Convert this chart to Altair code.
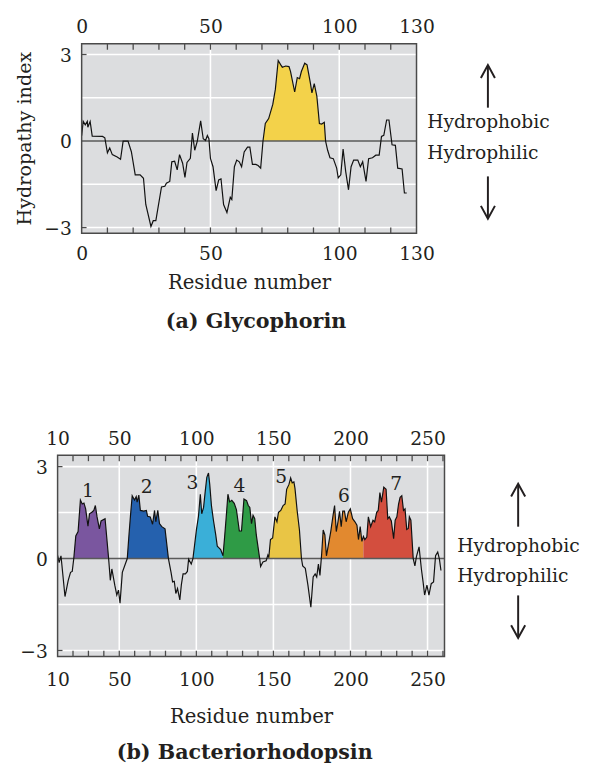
import altair as alt
import pandas as pd

FONT = "DejaVu Serif"
INK = "#231f20"
FRAME = "#4a4a4a"
PLOT_BG = "#dcdddf"

# ---------------- (a) Glycophorin ----------------
g_res = [0, 0.6, 1.4, 2.2, 2.4, 3.3, 4.1, 8.1, 9.0, 10.0,
         10.9, 11.9, 13.8, 15.1, 16.1, 18.0, 19.3, 20.8, 22.7, 24.0,
         24.9, 26.9, 27.8, 28.8, 31.0, 32.3, 32.9, 34.2, 35.0, 36.1,
         37.1, 38.0, 39.2, 40.1, 40.9, 42.2, 43.0, 43.9, 44.9, 46.2,
         47.2, 48.1, 48.8, 49.4, 50.0, 51.0, 52.2, 53.2, 54.1, 55.1,
         56.4, 57.7, 58.3, 59.3, 60.2, 61.2, 62.1, 63.1, 64.4, 65.3,
         66.3, 67.6, 68.5, 69.5, 70.4, 71.3, 72.6, 74.2, 75.2, 76.3,
         77.3, 77.9, 79.2, 80.5, 81.1, 82.7, 83.7, 84.6, 85.3, 86.6,
         87.5, 88.8, 89.4, 90.3, 91.3, 92.3, 93.2, 94.2, 94.7, 95.5,
         96.4, 97.7, 99.0, 99.6, 100.6, 101.5, 102.5, 103.6, 104.6, 105.6,
         107.2, 108.2, 109.1, 110.4, 111.4, 112.9, 114.2, 115.5, 116.4, 117.3,
         118.4, 119.3, 120.5, 121.8, 122.7, 124.4, 125.3, 126.2]
g_val = [0.19, 0.68, 0.56, 0.68, 0.48, 0.68, 0.17, 0.16, 0.11, -0.41,
         -0.24, -0.47, -0.55, -0.63, 0.0, 0.0, -0.37, -1.17, -1.17, -1.29,
         -2.2, -2.96, -2.76, -2.76, -1.59, -1.57, -1.46, -1.4, -0.72, -0.7,
         -1.0, -0.47, -0.77, -1.26, -0.74, -0.6, 0.28, -0.32, 0.0, 0.7,
         0.08, 0.02, 0.19, 0.08, -0.6, -0.89, -1.72, -1.35, -1.31, -2.2,
         -2.48, -1.95, -2.03, -0.89, -0.66, -0.72, -0.89, -0.38, -0.21, -0.21,
         -0.81, -0.81, -0.85, -0.94, 0.0, 0.61, 0.78, 1.27, 1.79, 2.79,
         2.64, 2.56, 2.6, 2.58, 2.41, 1.7, 2.2, 2.16, 2.41, 2.7,
         2.64, 2.01, 1.67, 1.99, 1.56, 0.61, 0.59, 0.65, 0.0, -0.32,
         -0.58, -0.61, -0.94, -1.28, -1.17, -0.28, -1.05, -1.69, -0.89, -0.66,
         -0.66, -0.89, -0.72, -1.4, -0.61, -0.58, -0.49, -0.49, 0.16, 0.2,
         0.73, 0.73, -0.13, -0.15, -0.94, -0.97, -1.8, -1.8]
g_xlim = [0, 130]
g_xlabels = [0, 50, 100, 130]
g_xticks = [10, 20, 30, 40, 50, 60, 70, 80, 90, 100, 110, 120]
g_vgrid = [50, 100]
g_seg_names = ["TM"]
g_seg_start = [70.4]
g_seg_end = [94.7]
g_seg_colors = ["#f3d24a"]

# ---------------- (b) Bacteriorhodopsin ----------------
b_res = [10.0, 11.0, 12.2, 14.8, 16.9, 18.4, 19.5, 20.5, 21.8, 23.3,
         24.8, 26.0, 27.1, 28.2, 29.7, 30.7, 32.2, 33.5, 34.5, 35.6,
         37.1, 38.2, 40.8, 43.1, 44.2, 45.2, 47.1, 48.4, 49.5, 50.5,
         52.0, 53.7, 55.2, 56.3, 57.3, 58.4, 59.9, 61.0, 61.6, 62.7,
         63.7, 65.9, 67.6, 68.4, 70.1, 71.6, 72.9, 73.7, 75.0, 76.1,
         77.6, 79.7, 81.9, 83.6, 84.6, 85.7, 86.7, 87.8, 89.3, 90.3,
         91.4, 92.9, 94.2, 95.0, 96.7, 97.8, 98.8, 100.1, 101.4, 102.6,
         103.5, 104.7, 105.8, 106.8, 107.9, 108.7, 109.8, 111.1, 112.6, 113.6,
         114.7, 115.8, 117.3, 118.3, 119.4, 120.5, 121.6, 123.0, 124.6, 126.0,
         127.9, 129.3, 130.9, 132.6, 133.7, 134.7, 135.8, 136.8, 137.9, 138.9,
         141.1, 141.7, 143.2, 145.3, 146.4, 147.0, 148.1, 149.5, 151.0, 152.3,
         153.3, 154.8, 156.3, 157.6, 158.6, 160.1, 161.2, 162.2, 163.3, 164.0,
         165.4, 166.9, 168.2, 169.0, 170.7, 172.4, 174.3, 175.8, 177.1, 178.1,
         179.2, 180.2, 181.3, 182.3, 183.4, 184.4, 185.5, 187.2, 188.7, 189.7,
         190.8, 191.9, 192.9, 194.0, 195.0, 196.1, 197.2, 198.6, 199.9, 201.4,
         202.9, 204.2, 205.2, 206.3, 207.4, 208.4, 209.3, 210.6, 211.6, 213.1,
         214.6, 215.7, 217.0, 218.0, 219.1, 220.1, 221.6, 223.1, 224.2, 225.2,
         226.5, 228.0, 229.0, 230.1, 231.2, 232.2, 233.3, 234.4, 235.4, 236.5,
         237.5, 238.2, 239.2, 240.7, 241.8, 242.8, 244.5, 246.0, 247.1, 248.1,
         249.6, 250.9, 252.4, 253.9, 255.2, 256.6, 257.7, 258.7]
b_val = [0.1, -0.13, 0.09, -1.24, -0.71, -0.45, -0.42, 0.0, 0.74, 0.88,
         1.91, 1.78, 1.81, 1.62, 1.06, 1.46, 1.51, 1.57, 1.73, 1.36,
         0.97, 1.23, 1.3, 0.0, -0.71, -0.34, -0.87, -1.19, -1.03, -1.46,
         -0.45, -0.21, 0.0, 0.77, 1.41, 2.05, 1.91, 2.02, 1.84, 2.07,
         1.57, 1.55, 1.57, 1.38, 1.36, 1.12, 1.57, 1.2, 1.57, 1.14,
         1.04, 0.97, 0.0, -0.45, -0.76, -0.74, -1.14, -0.98, -1.35, -0.85,
         -0.5, -0.5, -0.42, -0.02, -0.18, 0.0, 0.41, 0.95, 1.38, 2.1,
         1.46, 1.67, 2.2, 2.65, 2.79, 2.42, 1.73, 1.25, 0.77, 0.4,
         0.35, 0.29, 0.09, 0.67, 1.36, 2.1, 1.85, 1.9, 1.8, 1.6,
         0.9, 0.9, 1.94, 1.89, 1.73, 1.67, 1.14, 1.41, 1.3, 0.77,
         0.0, -0.26, -0.11, -0.07, 0.11, 0.03, 0.62, 0.67, 1.36, 1.2,
         1.51, 1.57, 1.73, 1.78, 2.26, 2.42, 2.63, 2.47, 2.5, 2.29,
         1.57, 0.93, 0.0, -0.24, -0.32, -0.87, -1.59, -0.6, -0.5, -0.6,
         -0.18, -0.55, 0.14, 0.93, 0.77, 0.09, 0.4, 0.88, 1.41, 1.73,
         0.88, 1.2, 1.54, 1.04, 1.55, 1.55, 1.2, 1.51, 1.62, 1.3,
         1.2, 1.09, 0.62, 1.04, 0.56, 0.72, 0.62, 0.7, 1.36, 1.04,
         1.25, 1.2, 1.51, 1.57, 2.15, 1.84, 2.33, 2.26, 1.3, 1.36,
         1.23, 0.65, 1.25, 1.36, 1.78, 2.0, 2.05, 1.57, 1.62, 0.95,
         0.98, 1.36, 1.25, 0.0, -0.24, 0.06, 0.38, -0.34, -0.76, -1.19,
         -0.87, -1.19, -0.82, -0.76, 0.09, 0.21, -0.02, -0.39]
b_xlim = [10, 261]
b_xlabels = [10, 50, 100, 150, 200, 250]
b_xticks = [20, 30, 40, 50, 60, 70, 80, 90, 100, 110, 120, 130, 140, 150,
            160, 170, 180, 190, 200, 210, 220, 230, 240, 250, 260]
b_vgrid = [50, 100, 150, 200, 250]
b_seg_names = ["1", "2", "3", "4", "5", "6", "7"]
b_seg_start = [20.5, 55.2, 97.8, 117.3, 147.0, 181.3, 208.4]
b_seg_end = [43.1, 81.9, 117.3, 141.1, 168.2, 208.4, 240.7]
b_seg_colors = ["#7a569f", "#2561ae", "#3aafd8", "#2f9b46", "#e9c545", "#e2892f", "#d34e3e"]
b_label_x = [29.7, 67.8, 97.4, 128.0, 155.0, 195.7, 229.7]
b_label_y = [2.2, 2.34, 2.47, 2.37, 2.65, 2.05, 2.44]

# ---------------- shared ----------------
y_lim = [-3.2, 3.37]
y_labels = [3, 0, -3]
y_grid = [3, 1.5, -1.5, -3]
y_ticks = [3, -3]
zero_line = [0]
side_labels = ["Hydrophobic", "Hydrophilic"]

UP_HEAD = "M -0.55 1 L 0 0 L 0.55 1"
DOWN_HEAD = "M -0.55 -1 L 0 0 L 0.55 -1"


def fmt(v):
    return ("\u2212" + str(abs(v))) if v < 0 else str(v)


def panel(res, val, xlim, xlabels, xticks, vgrid, seg_names, seg_start, seg_end,
          seg_colors, W, H, off, title, title_x, title_y, xlab_pad, xtitle_pad,
          top_pad, ytitle, ann, num_labels=None):
    GW = W + off
    xs = alt.Scale(domain=xlim, range=[off, off + W], nice=False, zero=False)
    ys = alt.Scale(domain=y_lim, nice=False, zero=False)

    line_df = pd.DataFrame({"res": res, "hyd": val})
    rows = []
    for name, a, b in zip(seg_names, seg_start, seg_end):
        for r, v in zip(res, val):
            if a <= r <= b:
                rows.append({"res": r, "pos": max(v, 0.0), "base": 0.0, "seg": name})
    area_df = pd.DataFrame(rows)

    bg = alt.Chart().mark_rect(fill=PLOT_BG, strokeWidth=0).encode(
        x=alt.value(off), x2=alt.value(off + W), y=alt.value(0), y2=alt.value(H))
    vgrid_l = alt.Chart(pd.DataFrame({"x": vgrid})).mark_rule(
        color="white", strokeWidth=1.6).encode(x=alt.X("x:Q", scale=xs, axis=None))
    hgrid_l = alt.Chart(pd.DataFrame({"y": y_grid})).mark_rule(
        color="white", strokeWidth=1.6).encode(
        y=alt.Y("y:Q", scale=ys, axis=None), x=alt.value(off), x2=alt.value(off + W))
    area_l = alt.Chart(area_df).mark_area(opacity=1).encode(
        x=alt.X("res:Q", scale=xs, axis=None),
        y=alt.Y("pos:Q", scale=ys, axis=None),
        y2="base:Q",
        color=alt.Color("seg:N", scale=alt.Scale(domain=seg_names, range=seg_colors), legend=None),
    )
    zero_l = alt.Chart(pd.DataFrame({"y": zero_line})).mark_rule(
        color="#5a5a5a", strokeWidth=1.6).encode(
        y=alt.Y("y:Q", scale=ys, axis=None), x=alt.value(off), x2=alt.value(off + W))
    tick_df = pd.DataFrame({"x": xticks})
    ticks_top = alt.Chart(tick_df).mark_rule(color=FRAME, strokeWidth=1.3).encode(
        x=alt.X("x:Q", scale=xs,
                axis=alt.Axis(orient="top", values=xlabels, title=None, labelPadding=top_pad)),
        y=alt.value(0), y2=alt.value(6))
    ticks_bot = alt.Chart(tick_df).mark_rule(color=FRAME, strokeWidth=1.3).encode(
        x=alt.X("x:Q", scale=xs, axis=None),
        y=alt.value(H - 6), y2=alt.value(H))
    yticks_l = alt.Chart(pd.DataFrame({"y": y_ticks})).mark_rule(
        color=FRAME, strokeWidth=1.3).encode(
        y=alt.Y("y:Q", scale=ys, axis=None), x=alt.value(off), x2=alt.value(off + 5))
    line_l = alt.Chart(line_df).mark_line(color="#111111", strokeWidth=1.2).encode(
        x=alt.X("res:Q", scale=xs,
                axis=alt.Axis(orient="bottom", values=xlabels, title="Residue number",
                              labelPadding=xlab_pad, titlePadding=xtitle_pad)),
        y=alt.Y("hyd:Q", scale=ys, axis=None),
    )
    frame = alt.Chart().mark_rect(fillOpacity=0, stroke=FRAME, strokeWidth=1.5).encode(
        x=alt.value(off), x2=alt.value(off + W), y=alt.value(0), y2=alt.value(H))
    ylab = alt.Chart(pd.DataFrame({"y": y_labels, "t": [fmt(v) for v in y_labels]})).mark_text(
        font=FONT, fontSize=19, color=INK, align="right", baseline="middle", dy=1.5).encode(
        y=alt.Y("y:Q", scale=ys, axis=None), x=alt.value(off - 10), text="t:N")
    ttl = alt.Chart(pd.DataFrame({"t": [title]})).mark_text(
        font=FONT, fontSize=21, fontWeight="bold", color=INK, align="center",
        baseline="middle").encode(x=alt.value(title_x), y=alt.value(title_y), text="t:N")
    layers = [bg, vgrid_l, hgrid_l, area_l, zero_l, ticks_top, ticks_bot, yticks_l, line_l,
              frame, ylab, ttl]

    if ytitle is not None:
        layers.append(alt.Chart(pd.DataFrame({"t": [ytitle]})).mark_text(
            font=FONT, fontSize=19.5, fill=INK, align="center", baseline="middle", angle=270).encode(
            x=alt.value(off - 57.5), y=alt.value(H / 2.0), text="t:N"))

    if num_labels is not None:
        nx, ny, nt = num_labels
        layers.append(alt.Chart(pd.DataFrame({"x": nx, "y": ny, "t": nt})).mark_text(
            font=FONT, fontSize=19, color=INK, align="center", baseline="middle").encode(
            x=alt.X("x:Q", scale=xs, axis=None), y=alt.Y("y:Q", scale=ys, axis=None), text="t:N"))

    tx, ty1, ty2, axx, up_tip, up_end, dn_start, dn_tip = ann
    for lab, ty in zip(side_labels, [ty1, ty2]):
        layers.append(alt.Chart(pd.DataFrame({"t": [lab]})).mark_text(
            font=FONT, fontSize=19, color=INK, align="left", baseline="middle").encode(
            x=alt.value(off + tx), y=alt.value(ty), text="t:N"))
    layers.append(alt.Chart().mark_rule(color=INK, strokeWidth=2).encode(
        x=alt.value(off + axx), y=alt.value(up_tip + 1), y2=alt.value(up_end)))
    layers.append(alt.Chart().mark_rule(color=INK, strokeWidth=2).encode(
        x=alt.value(off + axx), y=alt.value(dn_start), y2=alt.value(dn_tip - 1)))
    layers.append(alt.Chart().mark_point(shape=UP_HEAD, filled=False, size=676, strokeWidth=2,
                                         color=INK, opacity=1).encode(
        x=alt.value(off + axx), y=alt.value(up_tip)))
    layers.append(alt.Chart().mark_point(shape=DOWN_HEAD, filled=False, size=676, strokeWidth=2,
                                         color=INK, opacity=1).encode(
        x=alt.value(off + axx), y=alt.value(dn_tip)))

    return alt.layer(*layers).properties(
        width=GW, height=H,
        view=alt.ViewBackground(fill="transparent", stroke="transparent"),
    )


# top panel: plot 341 x 193, shifted 24.5 px right of the bottom panel's plot
top = panel(g_res, g_val, g_xlim, g_xlabels, g_xticks, g_vgrid, g_seg_names, g_seg_start,
            g_seg_end, g_seg_colors, 341, 193, 24.5, "(a) Glycophorin", 202, 283,
            11.5, 10, 8, "Hydropathy index",
            (352, 80, 111.7, 413.7, 21.7, 65, 135, 178))

bottom = panel(b_res, b_val, b_xlim, b_xlabels, b_xticks, b_vgrid, b_seg_names, b_seg_start,
               b_seg_end, b_seg_colors, 394, 205, 0, "(b) Bacteriorhodopsin", 190.5, 303,
               14, 18, 7, None,
               (407, 92, 122.7, 469, 29, 72.7, 142.7, 186),
               num_labels=(b_label_x, b_label_y, b_seg_names))

chart = alt.vconcat(top, bottom, spacing=98).resolve_scale(color="independent").properties(
    padding={"left": 6.5, "top": 1.5, "right": 0, "bottom": 0}
).configure_axis(
    labelFont=FONT, labelFontSize=19, labelColor=INK,
    titleFont=FONT, titleFontSize=20, titleColor=INK, titleFontWeight="normal",
    grid=False, ticks=False, tickSize=0, domain=False, labelFlush=False
)

chart.save("out.html", embed_options={"renderer": "svg", "actions": False})
